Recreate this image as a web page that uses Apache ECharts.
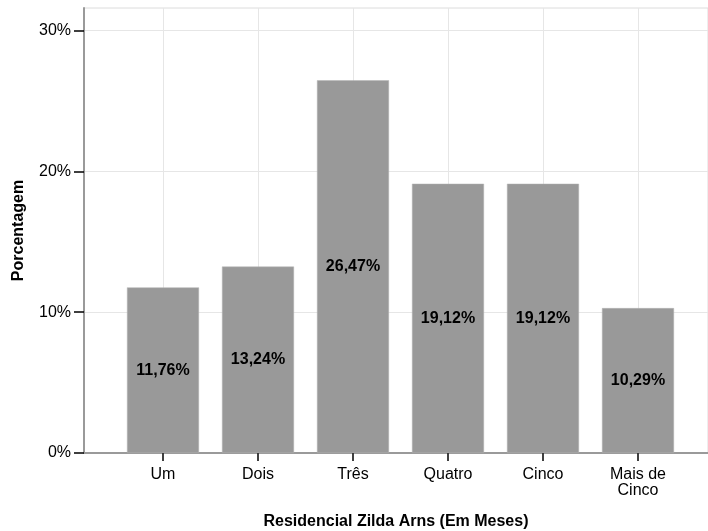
<!DOCTYPE html>
<html>
<head>
<meta charset="utf-8">
<script src="https://cdn.jsdelivr.net/npm/echarts@6/dist/echarts.min.js"></script>
<style>
  html, body { margin: 0; padding: 0; background: #fff; }
  #chart { width: 708px; height: 531px; }
</style>
</head>
<body>
<div id="chart"></div>
<script>
// Tempo de residência no Residencial Zilda Arns (percentual por faixa)
const categories = ['Um', 'Dois', 'Três', 'Quatro', 'Cinco', 'Mais de\nCinco'];
const percentages = [11.76, 13.24, 26.47, 19.12, 19.12, 10.29];
const yTicks = [0, 10, 20, 30];

const FONT = '"Liberation Sans", Arial, sans-serif';
const catIdx = categories.map((_, i) => i);

const chart = echarts.init(document.getElementById('chart'), null, { renderer: 'canvas' });

chart.setOption({
  animation: false,
  backgroundColor: '#ffffff',
  textStyle: { fontFamily: FONT },
  grid: {
    left: 84, right: 0, top: 8, bottom: 78,
    outerBoundsMode: 'none',
    containLabel: false,
    show: true, borderColor: '#dcdcdc', borderWidth: 1, backgroundColor: 'transparent'
  },
  xAxis: {
    type: 'value',
    min: -0.8316,
    max: 5.737,
    name: 'Residencial Zilda Arns (Em Meses)',
    nameLocation: 'middle',
    nameGap: 61,
    nameTextStyle: { fontFamily: FONT, fontWeight: 'bold', fontSize: 16, color: '#000' },
    axisLine: { show: true, onZero: false, lineStyle: { color: '#9a9a9a', width: 2 } },
    axisTick: { show: true, customValues: catIdx, length: 8, lineStyle: { color: '#000', width: 1.5 } },
    axisLabel: {
      customValues: catIdx,
      formatter: v => categories[Math.round(v)] ?? '',
      fontFamily: FONT, fontSize: 16, color: '#000', margin: 14, lineHeight: 16
    },
    splitLine: { show: true, customValues: catIdx, lineStyle: { color: '#e6e6e6', width: 1 } }
  },
  yAxis: {
    type: 'value',
    min: 0,
    max: 31.6,
    name: 'Porcentagem',
    nameLocation: 'middle',
    nameGap: 57,
    nameTextStyle: { fontFamily: FONT, fontWeight: 'bold', fontSize: 16, color: '#000' },
    axisLine: { show: true, onZero: false, lineStyle: { color: '#9a9a9a', width: 2 } },
    axisTick: { show: true, customValues: yTicks, length: 10, lineStyle: { color: '#000', width: 1.5 } },
    axisLabel: {
      customValues: yTicks,
      formatter: v => v + '%',
      fontFamily: FONT, fontSize: 16, color: '#000', margin: 13
    },
    splitLine: { show: true, customValues: yTicks, lineStyle: { color: '#e6e6e6', width: 1 } }
  },
  series: [{
    type: 'bar',
    data: percentages.map((v, i) => [i, v]),
    barWidth: 72,
    itemStyle: { color: '#999999', borderColor: '#b5b5b5', borderWidth: 0.5 },
    label: {
      show: true,
      position: 'inside',
      formatter: p => p.value[1].toFixed(2).replace('.', ',') + '%',
      fontFamily: FONT, fontWeight: 'bold', fontSize: 16, color: '#000'
    }
  }]
});
</script>
</body>
</html>
